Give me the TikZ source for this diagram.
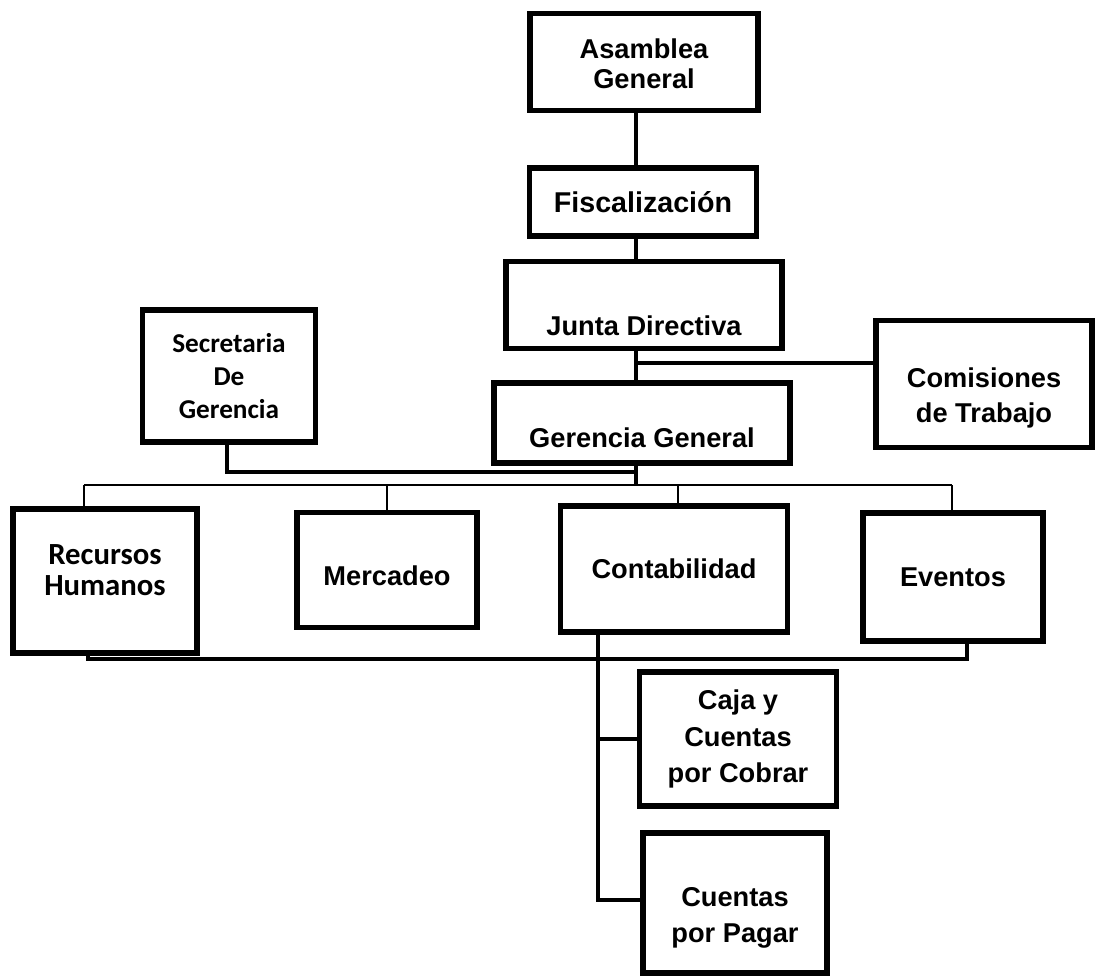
\documentclass[tikz,border=0pt]{standalone}
\usepackage{fontspec}
\setmainfont{Liberation Sans}
\newfontfamily\calfont{Carlito}
\newcommand{\lowtext}[2]{\raisebox{#1}[\height][\depth]{#2}}
\begin{document}
\begin{tikzpicture}[x=0.02cm, y=-0.02cm, font=\bfseries\fontsize{15.5}{20}\selectfont,
	box/.style={draw=black, line width=3.2pt, align=center, inner sep=2pt},
	link/.style={line width=2.4pt},
	bus/.style={line width=1.6pt}]
	\useasboundingbox (0,0) rectangle (1097,978);

	\node[box, minimum width=4.56cm, minimum height=1.94cm, font=\bfseries\fontsize{15.5}{17}\selectfont](asamblea) at (644,62){\lowtext{-3pt}{\begin{tabular}{@{}c@{}}Asamblea\\General\end{tabular}}};
	\node[box, minimum width=4.54cm, minimum height=1.36cm, font=\bfseries\fontsize{16.3}{20}\selectfont](fiscal) at (643,202){Fiscalización};
	\node[box, minimum width=5.52cm, minimum height=1.74cm](junta) at (644,305){\lowtext{-12pt}{Junta Directiva}};
	\node[box, minimum width=3.46cm, minimum height=2.64cm, font=\calfont\bfseries\fontsize{15.5}{18.7}\selectfont](secretaria) at (229,376){Secretaria\\De\\Gerencia};
	\node[box, minimum width=4.32cm, minimum height=2.54cm](comisiones) at (984,384){\lowtext{-8pt}{\begin{tabular}{@{}c@{}}Comisiones\\de Trabajo\end{tabular}}};
	\node[box, minimum width=5.92cm, minimum height=1.6cm](gerencia) at (642,423){\lowtext{-8.5pt}{Gerencia General}};

	\node[box, minimum width=3.68cm, minimum height=2.88cm, font=\calfont\bfseries\fontsize{17.5}{17.5}\selectfont](recursos) at (105,581){\lowtext{4pt}{\begin{tabular}{@{}c@{}}Recursos\\Humanos\end{tabular}}};
	\node[box, minimum width=3.6cm, minimum height=2.3cm](mercadeo) at (387,570){\lowtext{-3pt}{Mercadeo}};
	\node[box, minimum width=4.54cm, minimum height=2.52cm](contab) at (674,569){Contabilidad};
	\node[box, minimum width=3.6cm, minimum height=2.56cm](eventos) at (953,577){Eventos};

	\node[box, minimum width=3.94cm, minimum height=2.68cm, font=\bfseries\fontsize{15.5}{21}\selectfont](caja) at (738,739){Caja y\\Cuentas\\por Cobrar};
	\node[box, minimum width=3.68cm, minimum height=2.8cm, font=\bfseries\fontsize{15.5}{21}\selectfont](pagar) at (735,903){\lowtext{-8pt}{\begin{tabular}{@{}c@{}}Cuentas\\por Pagar\end{tabular}}};

	% upper chain
	\coordinate (axis) at (636,363);
	\draw[link] (axis |- asamblea.south) -- (axis |- fiscal.north);
	\draw[link] (axis |- fiscal.south) -- (axis |- junta.north);
	\draw[link] (axis |- junta.south) -- (axis |- gerencia.north);
	\draw[link] (axis) -- (axis -| comisiones.west);

	% gerencia to departments
	\coordinate (busL) at (84,485);
	\coordinate (busR) at (952,485);
	\coordinate (sec) at (227,472);
	\draw[link] (axis |- gerencia.south) -- (axis |- busL);
	\draw[link] (secretaria.south -| sec) -- (sec) -- (sec -| axis);
	\draw[bus] (busL) -- (busR);
	\foreach \n/\x in {recursos/84, mercadeo/387, contab/678, eventos/952}{
		\coordinate (d\n) at (\x,485);
		\draw[bus] (d\n) -- (d\n |- \n.north);
	}

	% lower line
	\coordinate (lowL) at (88,659);
	\coordinate (lowR) at (967,659);
	\draw[link] (lowL |- recursos.south) -- (lowL) -- (lowR) -- (lowR |- eventos.south);

	% contabilidad branches
	\coordinate (cv) at (598,900);
	\draw[link] (cv |- contab.south) -- (cv) -- (cv -| pagar.west);
	\draw[link] (cv |- caja.west) -- (caja.west);
\end{tikzpicture}
\end{document}
